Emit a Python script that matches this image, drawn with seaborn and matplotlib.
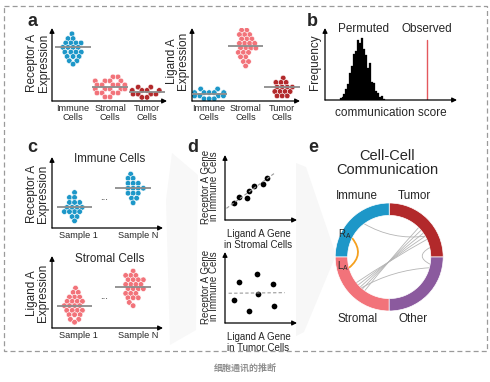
import numpy as np
import pandas as pd
import seaborn as sns
import matplotlib.pyplot as plt
from matplotlib.patches import Rectangle, Polygon, PathPatch
from matplotlib.path import Path

sns.set_theme(style='white')
plt.rcParams['font.family'] = ['Liberation Sans', 'Noto Sans CJK SC', 'DejaVu Sans']

# cores
c_immune = '#1d97c8'
c_stromal = '#f2737a'
c_tumor = '#b2292b'
c_other = '#8b5a9e'
c_median = '#8c8c8c'

cell_types = ['Immune', 'Stromal', 'Tumor']
cell_ticks = ['Immune\nCells', 'Stromal\nCells', 'Tumor\nCells']
samples = ['Sample 1', 'Sample N']

# a - expressao do receptor / ligando por tipo de celula
receptor_immune = [9.2, 8.55, 8.55, 7.95, 7.95, 7.95, 7.95, 7.35, 7.35, 7.35, 7.35, 6.7, 6.7, 6.7, 6.7,
                   6.1, 6.1, 6.1, 5.5, 5.5, 5.05]
receptor_stromal = [3.3, 3.3, 2.75, 2.75, 2.75, 2.75, 2.2, 2.2, 2.2, 2.2, 2.2, 1.65, 1.65, 1.65, 1.65, 1.65,
                    1.1, 1.1, 1.1, 1.1, 0.55, 0.55]
receptor_tumor = [1.9, 1.9, 1.45, 1.45, 1.45, 1.45, 0.95, 0.95, 0.95, 0.95, 0.5, 0.5]
ligand_immune = [1.65, 1.65, 1.15, 1.15, 1.15, 1.15, 1.15, 1.15, 0.7, 0.7, 0.7, 0.7, 0.7, 0.3, 0.3, 0.3]
ligand_stromal = [9.7, 9.7, 9.1, 9.1, 9.1, 8.5, 8.5, 8.5, 7.9, 7.9, 7.9, 7.9, 7.25, 7.25, 7.25, 7.25,
                  6.65, 6.65, 6.65, 6.05, 6.05, 5.4, 5.4, 4.8]
ligand_tumor = [3.15, 2.55, 2.55, 2.55, 1.9, 1.9, 1.9, 1.9, 1.3, 1.3, 1.3, 1.3, 0.7, 0.7, 0.7]

# b - distribuicao permutada
perm_counts = [3, 5, 9, 18, 26, 44, 55, 75, 80, 97, 92, 100, 83, 73, 52, 60, 30, 28, 14, 12, 5, 6, 2]
perm_start, perm_width = 1.1, 0.15
observed_score = 7.75

# c - por amostra
immune_s1 = [5.0, 4.3, 4.3, 3.6, 3.6, 3.6, 2.9, 2.9, 2.9, 2.9, 2.3, 2.3, 2.3, 2.3, 1.6, 1.6, 1.0]
immune_sN = [7.6, 7.0, 7.0, 6.3, 6.3, 6.3, 5.6, 5.6, 5.6, 5.6, 4.9, 4.9, 4.9, 4.2, 4.2, 3.55]
stromal_s1 = [5.55, 4.95, 4.95, 4.3, 4.3, 4.3, 3.7, 3.7, 3.7, 3.7, 3.1, 3.1, 3.1, 3.1,
              2.45, 2.45, 2.45, 2.45, 1.85, 1.85, 1.85, 1.2, 1.2, 0.8]
stromal_sN = [7.9, 7.3, 7.3, 7.3, 6.7, 6.7, 6.7, 6.7, 6.05, 6.05, 6.05, 6.05, 5.45, 5.45, 5.45, 5.45,
              4.8, 4.8, 4.8, 4.2, 4.2, 4.2, 3.55, 3.1]

# d - correlacoes
lig_stromal = [1.3, 1.9, 3.0, 3.4, 4.0, 5.3, 5.8]
rec_immune_1 = [2.6, 3.5, 3.4, 4.5, 5.3, 5.6, 6.5]
lig_tumor = [1.9, 4.4, 6.7, 1.3, 4.6, 3.4, 6.8]
rec_immune_2 = [5.8, 6.9, 5.5, 3.2, 4.1, 1.7, 2.4]

# e - anel
ring_labels = ['Tumor', 'Immune', 'Stromal', 'Other']
ring_sizes = [1, 1, 1, 1]
chord_from = [218, 222, 226, 230, 234, 228, 127, 13]
chord_to = [25, 30, 35, 40, 45, 345, 30, -10]
lr_from, lr_to = 153, 195

W, H = 490, 382
fig = plt.figure(figsize=(W / 100, H / 100), dpi=100)

ov = fig.add_axes([0, 0, 1, 1], zorder=-5)
ov.set_xlim(0, W)
ov.set_ylim(H, 0)
ov.axis('off')

swarm_sets = []


def px_axes(x0, y0, x1, y1):
    ax = fig.add_axes([x0 / W, 1 - y1 / H, (x1 - x0) / W, (y1 - y0) / H])
    ax.patch.set_visible(False)
    return ax


def txt(x, y, s, **kw):
    ov.text(x, y, s, ha='center', va='center', **kw)


def arrow_frame(ax):
    for s in ax.spines.values():
        s.set_visible(False)
    for xy in [(0, 1), (1, 0)]:
        ax.annotate('', xy=xy, xytext=(0, 0), xycoords='axes fraction', textcoords='axes fraction',
                    arrowprops=dict(arrowstyle='-|>', color='black', lw=0.9, mutation_scale=7,
                                    shrinkA=0, shrinkB=0))
    ax.set_xlabel('')
    ax.set_ylabel('')
    ax.set_yticks([])
    ax.tick_params(length=0, pad=2.5, labelsize=6.6)


def swarm(ax, groups, values, colors, hw):
    df = pd.DataFrame({'group': np.repeat(groups, [len(v) for v in values]),
                       'value': np.concatenate(values)})
    n = len(ax.collections)
    # tamanho pequeno para o arranjo, os pontos sao aumentados depois
    sns.swarmplot(data=df, x='group', y='value', hue='group', order=groups,
                  palette=dict(zip(groups, colors)), size=3.1, edgecolor='white', linewidth=0.4,
                  legend=False, warn_thresh=1, ax=ax)
    swarm_sets.extend(ax.collections[n:])
    for i, v in enumerate(values):
        ax.hlines(np.median(v), i - hw, i + hw, color=c_median, lw=1.3, zorder=5)
    ax.set_ylim(0, 10)


# fundo: moldura e sombras
ov.add_patch(Polygon([(172, 153), (198, 175), (196, 330), (170, 345), (166, 200)], closed=True,
                     fc='#f8f8f8', ec='none'))
ov.add_patch(Polygon([(296, 163), (306, 167), (336, 255), (304, 332), (296, 336)], closed=True,
                     fc='#f7f7f7', ec='none'))
ov.add_patch(Rectangle((3.5, 5.5), 483, 345.5, fill=False, ec='#9a9a9a', lw=0.9, ls=(0, (4, 2.5))))

# ---- a ----
ax = px_axes(52, 28, 167, 101)
swarm(ax, cell_types, [receptor_immune, receptor_stromal, receptor_tumor],
      [c_immune, c_stromal, c_tumor], 17.7 / 37)
ax.set_xlim(-0.57, 2.54)
ax.set_xticks(range(3), cell_ticks, linespacing=0.95)
arrow_frame(ax)

ax = px_axes(192, 28, 300, 101)
swarm(ax, cell_types, [ligand_immune, ligand_stromal, ligand_tumor],
      [c_immune, c_stromal, c_tumor], 17.7 / 36.5)
ax.set_xlim(-0.47, 2.49)
ax.set_xticks(range(3), cell_ticks, linespacing=0.95)
arrow_frame(ax)

txt(32, 21, 'a', fontsize=13, fontweight='bold')
txt(38, 63, 'Receptor A\nExpression', rotation=90, fontsize=8.5, linespacing=0.9)
txt(177.5, 61, 'Ligand A\nExpression', rotation=90, fontsize=8.5, linespacing=0.9)

# ---- b ----
ax = px_axes(325, 28, 457, 100)
perm_df = pd.DataFrame({
    'score': perm_start + perm_width * (np.arange(len(perm_counts)) + 0.5),
    'count': perm_counts,
})
sns.histplot(data=perm_df, x='score', weights='count', binwidth=perm_width,
             binrange=(perm_start, perm_start + perm_width * len(perm_counts)),
             color='black', edgecolor='black', linewidth=0.2, alpha=1, ax=ax)
ax.axvline(observed_score, ymax=0.83, color='#e4585d', lw=1)
ax.set_xlim(0, 10)
ax.set_ylim(0, 117)
ax.set_xticks([])
arrow_frame(ax)

txt(312, 21, 'b', fontsize=13, fontweight='bold')
txt(315, 62.5, 'Frequency', rotation=90, fontsize=8.5)
txt(363, 29, 'Permuted', fontsize=8.5)
txt(427, 29, 'Observed', fontsize=8.5)
txt(391, 113.5, 'communication score', fontsize=8.5)

# ---- c ----
for (y0, y1, vals, col, title, ylab, ty) in [
        (157, 228, [immune_s1, immune_sN], c_immune, 'Immune Cells', 'Receptor A\nExpression', 159),
        (256, 328, [stromal_s1, stromal_sN], c_stromal, 'Stromal Cells', 'Ligand A\nExpression', 258.5)]:
    ax = px_axes(52, y0, 163, y1)
    swarm(ax, samples, vals, [col, col], 17.7 / 58.5)
    ax.set_xlim(-0.385, 1.51)
    ax.set_xticks([0.06, 1.08], samples)
    ax.text(0.5, 4.4, '...', ha='center', va='center', fontsize=7)
    arrow_frame(ax)
    txt(110, ty, title, fontsize=8.4)
    txt(37.5, (y0 + y1) / 2 + 1, ylab, rotation=90, fontsize=8.5, linespacing=0.9)

txt(32, 148, 'c', fontsize=13, fontweight='bold')

# ---- d ----
for (y0, y1, xv, yv, xs, xlab) in [
        (155, 220, lig_stromal, rec_immune_1, [0.2, 6.8], 'Ligand A Gene\nin Stromal Cells'),
        (252, 323, lig_tumor, rec_immune_2, [0.5, 8.3], 'Ligand A Gene\nin Tumor Cells')]:
    ax = px_axes(225, y0, 297, y1)
    sns.scatterplot(x=xv, y=yv, color='black', s=17, linewidth=0, ax=ax)
    slope, icpt = np.polyfit(xv, yv, 1)
    xs = np.array(xs)
    ax.plot(xs, slope * xs + icpt, ls=(0, (3, 2)), color='#9a9a9a', lw=0.8)
    ax.set_xlim(0, 10)
    ax.set_ylim(0, 10)
    ax.set_xticks([])
    arrow_frame(ax)
    txt(258.5, y1 + 19.5, xlab, fontsize=7, linespacing=1.1)
    txt(210, (y0 + y1) / 2 - 1, 'Receptor A Gene\nin Immune Cells', rotation=90, fontsize=7,
        linespacing=0.85)

txt(193, 147, 'd', fontsize=13, fontweight='bold')

# ---- e ----
ax = px_axes(335.2, 203, 443.2, 311)
ax.pie(ring_sizes, colors=[c_tumor, c_immune, c_stromal, c_other], startangle=0, counterclock=True,
       radius=1, wedgeprops=dict(width=0.23, edgecolor='white', linewidth=0.5))
ax.set_xlim(-1, 1)
ax.set_ylim(-1, 1)
ax.set_aspect('equal')


def chord(a0, a1, color, lw, r=0.77, f=0.62):
    p0 = r * np.array([np.cos(np.radians(a0)), np.sin(np.radians(a0))])
    p1 = r * np.array([np.cos(np.radians(a1)), np.sin(np.radians(a1))])
    ctrl = f * (p0 + p1) / 2
    path = Path([p0, ctrl, p1], [Path.MOVETO, Path.CURVE3, Path.CURVE3])
    ax.add_patch(PathPatch(path, fc='none', ec=color, lw=lw))


for a0, a1 in zip(chord_from, chord_to):
    chord(a0, a1, '#b5b5b5', 0.6)
chord(lr_from, lr_to, '#f5a01e', 1.3)
ax.text(-0.82, 0.42, r'$\mathregular{R_A}$', ha='center', va='center', fontsize=7)
ax.text(-0.86, -0.17, r'$\mathregular{L_A}$', ha='center', va='center', fontsize=7)

txt(313, 147, 'e', fontsize=13, fontweight='bold')
txt(387, 163, 'Cell-Cell\nCommunication', fontsize=10.5, linespacing=0.95)
txt(357, 196, 'Immune', fontsize=8.4)
txt(414, 196, 'Tumor', fontsize=8.4)
txt(358, 319.5, 'Stromal', fontsize=8.4)
txt(413, 319.5, 'Other', fontsize=8.4)

txt(245, 368, '细胞通讯的推断', fontsize=6.5, color='#8f8f8f', fontweight='bold',
    family=['Noto Sans CJK SC', 'DejaVu Sans'])

# fixa o arranjo do swarm e aumenta os pontos (sobreposicao como no original)
fig.canvas.draw()
for coll in swarm_sets:
    if 'draw' in coll.__dict__:
        del coll.draw
    coll.set_sizes([4.0 ** 2])

fig.savefig('out.png', dpi=100)
